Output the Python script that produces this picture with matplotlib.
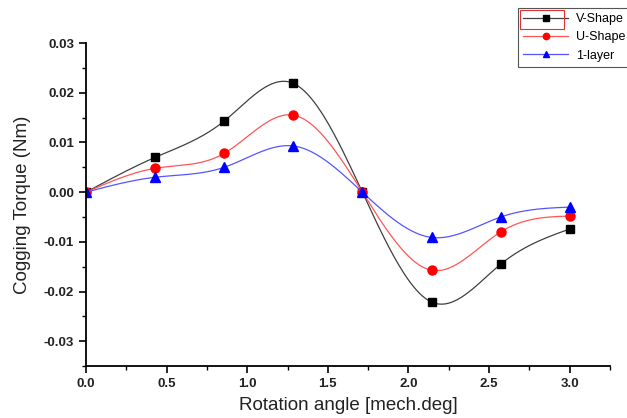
import matplotlib
matplotlib.use("Agg")
import matplotlib.pyplot as plt
from matplotlib.ticker import MultipleLocator, FormatStrFormatter
from matplotlib.patches import Rectangle
import numpy as np

plt.rcParams['font.family'] = ['Liberation Sans', 'DejaVu Sans']

# data
angle = [0.0, 0.4286, 0.8571, 1.2857, 1.7143, 2.1429, 2.5714, 3.0]
v_shape = [0.0, 0.0070, 0.0143, 0.0219, 0.0, -0.0221, -0.0145, -0.0074]
u_shape = [0.0, 0.0048, 0.0078, 0.0155, 0.0, -0.0157, -0.0080, -0.0048]
one_layer = [0.0, 0.0030, 0.0050, 0.0093, 0.0, -0.0091, -0.0050, -0.0030]


def spline_curve(x, y, n=300):
    # natural cubic spline, only used to draw the connecting line
    x = np.asarray(x, float)
    y = np.asarray(y, float)
    k = len(x)
    h = np.diff(x)
    A = np.zeros((k, k))
    b = np.zeros(k)
    A[0, 0] = 1
    A[-1, -1] = 1
    for i in range(1, k - 1):
        A[i, i - 1] = h[i - 1]
        A[i, i] = 2 * (h[i - 1] + h[i])
        A[i, i + 1] = h[i]
        b[i] = 3 * ((y[i + 1] - y[i]) / h[i] - (y[i] - y[i - 1]) / h[i - 1])
    c = np.linalg.solve(A, b)
    xs = np.linspace(x[0], x[-1], n)
    idx = np.clip(np.searchsorted(x, xs) - 1, 0, k - 2)
    dx = xs - x[idx]
    hi = h[idx]
    bi = (y[idx + 1] - y[idx]) / hi - hi * (2 * c[idx] + c[idx + 1]) / 3
    di = (c[idx + 1] - c[idx]) / (3 * hi)
    ys = y[idx] + bi * dx + c[idx] * dx ** 2 + di * dx ** 3
    return xs, ys


fig = plt.figure(figsize=(6.27, 4.18), dpi=100)
ax = fig.add_axes([0.137, 0.124, 0.836, 0.773])

series = [
    (v_shape, 'V-Shape', '#404040', 'black', 's', 5.8),
    (u_shape, 'U-Shape', '#ff5555', 'red', 'o', 6.5),
    (one_layer, '1-layer', '#5555ff', 'blue', '^', 7.0),
]
for vals, name, lc, mc, mk, ms in series:
    xs, ys = spline_curve(angle, vals)
    ax.plot(xs, ys, color=lc, lw=0.9)
    ax.plot(angle, vals, ls='none', marker=mk, color=mc, ms=ms)
    # legend proxy
    ax.plot([], [], color=lc, lw=0.9, marker=mk, mfc=mc, mec=mc, ms=ms, label=name)

ax.set_xlim(0, 3.25)
ax.set_ylim(-0.035, 0.03)
ax.xaxis.set_major_locator(MultipleLocator(0.5))
ax.xaxis.set_minor_locator(MultipleLocator(0.25))
ax.yaxis.set_major_locator(MultipleLocator(0.01))
ax.yaxis.set_minor_locator(MultipleLocator(0.005))
ax.xaxis.set_major_formatter(FormatStrFormatter('%.1f'))
ax.yaxis.set_major_formatter(FormatStrFormatter('%.2f'))

for s in ['top', 'right']:
    ax.spines[s].set_visible(False)
for s in ['left', 'bottom']:
    ax.spines[s].set_linewidth(1.3)
ax.tick_params(which='major', direction='out', length=5, width=1.2, labelsize=9.5)
ax.tick_params(which='minor', direction='out', length=3, width=1.0)
for t in ax.get_xticklabels() + ax.get_yticklabels():
    t.set_fontweight('bold')
    t.set_color('#222222')

ax.set_xlabel('Rotation angle [mech.deg]', fontsize=13.5, labelpad=5, color='#222222')
ax.set_ylabel('Cogging Torque (Nm)', fontsize=13.5, labelpad=9, color='#222222')

leg = fig.legend(loc='upper right', bbox_to_anchor=(1.005, 1 - 8 / 418), fontsize=9,
                 fancybox=False, edgecolor='#555555', handlelength=3.6,
                 borderpad=0.4, labelspacing=0.5, handletextpad=0.6,
                 borderaxespad=0, markerscale=0.7, framealpha=1)
leg.get_frame().set_linewidth(0.8)

# red selection box drawn round the first legend entry in the source picture
fig.patches.append(Rectangle((520 / 627, 1 - 29 / 418), 44 / 627, 19 / 418,
                             transform=fig.transFigure, fill=False,
                             edgecolor='#e03030', lw=0.8, zorder=10))

fig.savefig('out.png', dpi=100)
